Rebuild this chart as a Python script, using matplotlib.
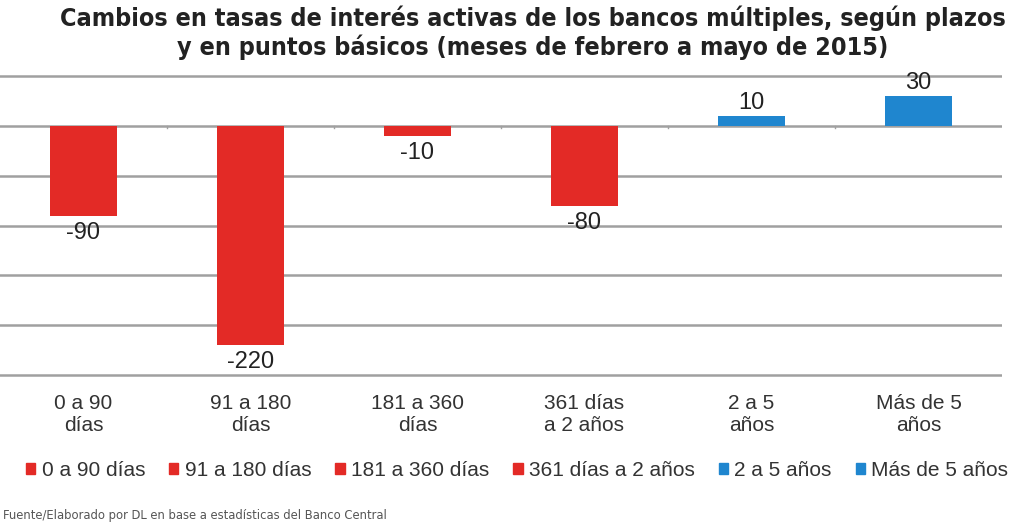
import matplotlib
matplotlib.use('Agg')
import matplotlib.pyplot as plt
from matplotlib.patches import Patch

categories = ['0 a 90\ndías', '91 a 180\ndías', '181 a 360\ndías',
              '361 días\na 2 años', '2 a 5\naños', 'Más de 5\naños']
legend_labels = ['0 a 90 días', '91 a 180 días', '181 a 360 días',
                 '361 días a 2 años', '2 a 5 años', 'Más de 5 años']
values = [-90, -220, -10, -80, 10, 30]

RED = '#e32a26'
BLUE = '#1f86cf'
colors = [RED if v < 0 else BLUE for v in values]

plt.rcParams['font.family'] = ['Liberation Sans', 'DejaVu Sans']

fig = plt.figure(figsize=(10.24, 5.26), dpi=100)
ax = fig.add_axes([0.0, 0.283, 0.9785, 0.5745])

x = range(len(values))
ax.bar(x, values, width=0.4, color=colors, zorder=3)

# value labels
for i, v in enumerate(values):
    if v < 0:
        ax.text(i, v - 6, str(v), ha='center', va='top', fontsize=17, color='#222222')
    else:
        ax.text(i, v + 2, str(v), ha='center', va='bottom', fontsize=17, color='#222222')

ax.set_xlim(-0.5, len(values) - 0.5)
ax.set_ylim(-252, 51)
ax.set_yticks(range(-250, 51, 50))
ax.yaxis.grid(True, color='#a0a0a0', linewidth=1.8, zorder=0)
ax.tick_params(axis='y', length=0, labelleft=False)
ax.set_xticks(list(x))
ax.set_xticklabels(categories, fontsize=15, color='#333333', linespacing=1.2)
ax.tick_params(axis='x', length=0, pad=12)
for s in ax.spines.values():
    s.set_visible(False)

# small separators on zero line
for b in [0.5, 1.5, 2.5, 3.5, 4.5]:
    ax.plot([b, b], [0, -2], color='#a0a0a0', linewidth=1, zorder=2)

fig.text(0.52, 0.938, 'Cambios en tasas de interés activas de los bancos múltiples, según plazos\n'
         'y en puntos básicos (meses de febrero a mayo de 2015)',
         ha='center', va='center', fontsize=18, fontweight='bold', color='#222222',
         family='DejaVu Sans', fontstretch='condensed', linespacing=1.15)

handles = [Patch(color=c) for c in colors]
fig.legend(handles, legend_labels, loc='center', bbox_to_anchor=(0.505, 0.105), ncol=6,
           frameon=False, fontsize=15, handlelength=0.45, handleheight=0.45,
           handletextpad=0.3, columnspacing=1.15, labelcolor='#333333')

fig.text(0.003, 0.02, 'Fuente/Elaborado por DL en base a estadísticas del Banco Central',
         ha='left', va='center', fontsize=9.3, color='#555555',
         family='DejaVu Sans', fontstretch='condensed')

fig.savefig('out.png', dpi=100)
